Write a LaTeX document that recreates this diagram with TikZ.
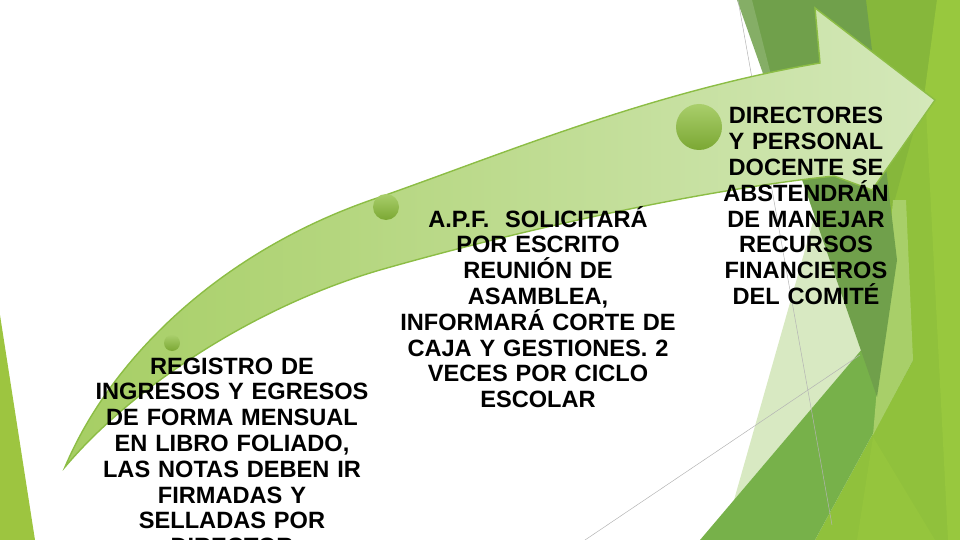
\documentclass[tikz,border=0pt]{standalone}
\usepackage{fontspec}
\setmainfont{Liberation Sans}
\definecolor{bandL}{HTML}{A6CE63}
\definecolor{bandR}{HTML}{D4E8BA}
\definecolor{bandEdge}{HTML}{8CBD45}
\definecolor{dotG}{HTML}{8CBE3A}
\definecolor{gBright}{HTML}{90C13C}
\definecolor{gTop}{HTML}{86B73B}
\definecolor{gStrip}{HTML}{98C83E}
\definecolor{gMid}{HTML}{77B14A}
\definecolor{gDark}{HTML}{70A04B}
\definecolor{gPale}{HTML}{D8E9C2}
\definecolor{gLight}{HTML}{A8CF69}
\definecolor{gSliver}{HTML}{9DC540}
\definecolor{facetLine}{HTML}{B4B4B4}
\tikzset{
  facet/.style={fill=#1, draw=none},
  txt/.style={font=\bfseries\fontsize{23.6}{25.8}\selectfont, align=center, text width=340pt, inner sep=0pt, anchor=base},
  dot/.style={circle, inner sep=0pt, draw=none, top color=dotG!75!white, bottom color=dotG!88!black},
  thinline/.style={draw=facetLine, line width=0.5pt}
}
\begin{document}
\frenchspacing
\begin{tikzpicture}[x=1pt,y=-1pt]
\useasboundingbox (0,0) rectangle (960,540);
\clip (0,0) rectangle (960,540);
% right-side facets
\fill[facet=gBright] (855,0) -- (960,0) -- (960,540) -- (815,540) -- (913,360) -- (885,280) -- (866,0) -- cycle;
\fill[facet=gTop] (858,0) -- (937,0) -- (925,90) -- (892,210) -- (872,100) -- cycle;
\fill[facet=gStrip] (937,0) -- (960,0) -- (960,540) -- (948,540) -- (925,90) -- cycle;
\fill[facet=gStrip!60!gBright] (873,437) -- (935,540) -- (857,540) -- cycle;
\fill[facet=gPale] (822,190) -- (850,190) -- (885,322) -- (734,500) -- cycle;
\fill[facet=gMid] (700,540) -- (885,322) -- (913,360) -- (815,540) -- cycle;
\fill[facet=gLight] (893,200) -- (906,200) -- (913,360) -- (873,435) -- cycle;
\fill[facet=gDark] (740,0) -- (866,0) -- (897,260) -- (877,397) -- cycle;
\fill[facet=gDark!85!white] (737,0) -- (752,0) -- (790,150) -- cycle;
\draw[thinline] (738,0) -- (832,525);
\draw[thinline] (585,540) -- (860,355);
% left sliver
\fill[facet=gSliver] (0,315) -- (35,540) -- (0,540) -- cycle;
% curved arrow
\path[draw=bandEdge, line width=1.4pt, left color=bandL, right color=bandR, line join=miter]
  (65,467) .. controls (110,360) and (220,250) .. (380,197)
  .. controls (500,155) and (650,92) .. (820,63)
  -- (815,8) -- (935,100) -- (872,190) -- (834,176)
  .. controls (700,190) and (520,230) .. (380,270)
  .. controls (250,308) and (130,390) .. (65,467) -- cycle;
% dots
\node[dot, minimum size=16pt] (d1) at (172,343) {};
\node[dot, minimum size=26pt] (d2) at (386,207) {};
\node[dot, minimum size=46pt] (d3) at (699,127) {};
% texts
\node[txt] (t1) at (232,374) {REGISTRO DE\\INGRESOS Y EGRESOS\\DE FORMA MENSUAL\\EN LIBRO FOLIADO,\\LAS NOTAS DEBEN IR\\FIRMADAS Y\\SELLADAS POR\\DIRECTOR};
\node[txt] (t2) at (538,227) {A.P.F.\ \ SOLICITARÁ\\POR ESCRITO\\REUNIÓN DE\\ASAMBLEA,\\INFORMARÁ CORTE DE\\CAJA Y GESTIONES. 2\\VECES POR CICLO\\ESCOLAR};
\node[txt] (t3) at (806,124) {DIRECTORES\\Y PERSONAL\\DOCENTE SE\\ABSTENDRÁN\\DE MANEJAR\\RECURSOS\\FINANCIEROS\\DEL COMITÉ};
\end{tikzpicture}
\end{document}
